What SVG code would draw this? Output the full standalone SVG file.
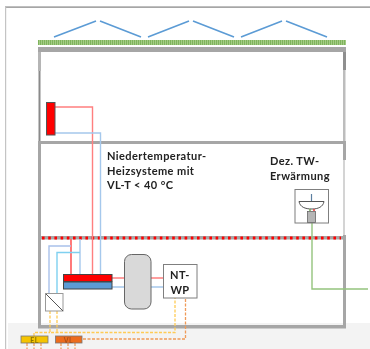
<svg xmlns="http://www.w3.org/2000/svg" width="370" height="349" viewBox="0 0 370 349">
<style>
text{font-family:"Lato","Liberation Sans",sans-serif;font-weight:700;fill:#222;font-size:11px;letter-spacing:.42px}
.w{fill:#a6a6a6}
.p{fill:none;stroke-width:1.4}
.sol{fill:none;stroke:#5b9bd5;stroke-width:1.6}
.y{fill:none;stroke:#ffcb55;stroke-width:1.3;stroke-dasharray:3 1.5}
.o{fill:none;stroke:#f09a58;stroke-width:1.3;stroke-dasharray:3 1.5}
.box{fill:#fff;stroke:#7f7f7f;stroke-width:1}
</style>
<defs>
<filter id="soft" x="0" y="0" width="100%" height="100%"><feGaussianBlur stdDeviation="0.4"/></filter>
<pattern id="sedum" width="2" height="5" patternUnits="userSpaceOnUse"><rect width="2" height="5" fill="#a3cc85"/><rect width="1" height="5" fill="#7fb35c"/></pattern>
</defs>
<rect width="370" height="349" fill="#fff"/>
<g filter="url(#soft)">
<g id="frame">
<rect x="8" y="323" width="362" height="26" fill="#f3f3f3"/>
<rect x="5" y="6.500" width="365" height="1.200" fill="#808080"/>
<rect x="5" y="7" width="1.200" height="342" fill="#c4c4c4"/>
</g>
<g id="roof">
<rect x="38" y="40" width="308" height="5" fill="url(#sedum)"/>
<path class="sol" d="M54 37L96 21M100 21L141 37M148 37L189 21M193 21L234 37M241 37L282 21M286 21L327 37"/>
</g>
<g id="building">
<rect class="w" x="38" y="47" width="308" height="5"/>
<rect x="38" y="52" width="3" height="19" fill="#b5b5b5"/>
<rect x="38.500" y="71" width="2" height="70" fill="#8a8a8a"/>
<rect x="38" y="141" width="3" height="186" fill="#a6a6a6"/>
<rect x="343" y="52" width="3" height="18" fill="#8f8f8f"/>
<rect x="343" y="70" width="2.500" height="72" fill="#bdbdbd"/>
<rect x="343" y="142" width="3" height="18" fill="#a6a6a6"/>
<rect x="343" y="160" width="2" height="75" fill="#d4d4d4"/>
<rect x="343" y="235" width="3" height="92" fill="#a6a6a6"/>
<rect class="w" x="38" y="141" width="308" height="3"/>
<rect class="w" x="38" y="236" width="308" height="3.500"/>
<rect class="w" x="38" y="325" width="308" height="3.500"/>
<line x1="42" y1="238" x2="341" y2="238" stroke="#f00" stroke-width="2.800" stroke-dasharray="2.600 3.600"/>
</g>
<g id="connectors">
<path class="p" stroke="#ff7f7f" d="M55 107H92.500V274"/>
<path class="p" stroke="#a5c8ec" d="M55 133H100.500V274"/>
<path class="p" stroke="#ff6b6b" style="stroke-width:1.800" d="M71 239V274"/>
<path class="p" stroke="#a5c8ec" d="M80 239V274"/>
<path class="p" stroke="#a9c1ea" d="M49 293V246H71"/>
<path class="p" stroke="#7fd0f0" d="M57 293V252.500H80"/>
<path class="p" stroke="#ff7f7f" d="M112 278H124M151 278H163"/>
<path class="p" stroke="#a5c8ec" d="M112 287H124M151 287H163"/>
<path class="y" d="M50 311V332.500H175V298"/>
<path class="y" d="M57 311V332.500"/>
<path class="o" d="M83 339H185.500V298"/>
<path class="y" d="M34 336V332.500H50"/>
<path class="o" d="M27 343V349M34 343V349M41 343V349M61 343V349M68 343V349M75 343V349"/>
<path class="p" stroke="#94c47d" d="M312 223V289H368"/>
</g>
<g id="radiator"><rect x="46.500" y="102.500" width="8.500" height="32.500" fill="#f00" stroke="#555" stroke-width="1"/></g>
<g id="manifold">
<rect x="63.500" y="274.500" width="48.500" height="7" fill="#f00" stroke="#444" stroke-width="1"/>
<rect x="63.500" y="282" width="48.500" height="7" fill="#5b9bd5" stroke="#444" stroke-width="1"/>
</g>
<g id="tank"><rect x="124.500" y="254.500" width="26.500" height="54.500" rx="7" fill="#d9d9d9" stroke="#666" stroke-width="1"/></g>
<g id="heatpump">
<rect class="box" x="163.500" y="264.500" width="33.500" height="33.500"/>
<text x="180" y="278.500" text-anchor="middle">NT-</text>
<text x="180" y="293.500" text-anchor="middle">WP</text>
</g>
<g id="exchanger">
<rect class="box" x="45.500" y="293.500" width="17.500" height="17.500" style="stroke:#999"/>
<line x1="46" y1="294" x2="63" y2="311" stroke="#555" stroke-width="1"/>
</g>
<g id="EL"><rect x="21" y="336" width="27" height="7" fill="#f5c400" stroke="#777" stroke-width=".8"/><text x="34.500" y="342.500" text-anchor="middle" style="font-size:7px;fill:#8a7400">EL</text></g>
<g id="VL"><rect x="55.500" y="336" width="26.500" height="7" fill="#ed6c1f" stroke="#777" stroke-width=".8"/><text x="68.500" y="342.500" text-anchor="middle" style="font-size:7px;fill:#a85018">VL</text></g>
<g id="sink">
<rect class="box" x="295" y="189.500" width="33.500" height="33.500"/>
<path d="M299 201.500H324C323 207 318 209 312 209C305 209 300 207 299 201.500Z" fill="#fff" stroke="#555" stroke-width="1"/>
<line x1="311.500" y1="194" x2="311.500" y2="201" stroke="#5b7fa0" stroke-width="1.200"/>
<rect x="307.500" y="211.500" width="8" height="11" fill="#b5b5b5" stroke="#666" stroke-width=".8"/>
<path d="M310 209V211" stroke="#6cab4f" stroke-width="1.500"/>
<path d="M314 209V211" stroke="#e33" stroke-width="1.500"/>
</g>
<g id="labels">
<text x="107" y="160">Niedertemperatur-</text>
<text x="107" y="174.500">Heizsysteme mit</text>
<text x="107" y="189">VL-T &lt; 40 °C</text>
<text x="270" y="165">Dez. TW-</text>
<text x="270" y="180">Erwärmung</text>
</g>
</g>
</svg>
